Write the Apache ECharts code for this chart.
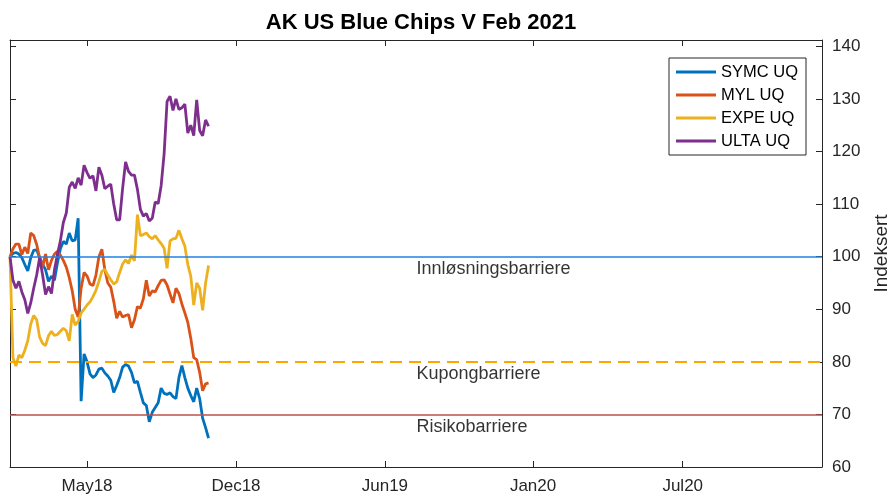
<!DOCTYPE html>
<html>
<head>
<meta charset="utf-8">
<script src="https://cdn.jsdelivr.net/npm/echarts@6/dist/echarts.min.js"></script>
<style>html,body{margin:0;padding:0;background:#fff}#c{width:891px;height:498px}</style>
</head>
<body>
<div id="c"></div>
<script>
const chartTitle = 'AK US Blue Chips V Feb 2021';
const yAxisName = 'Indeksert';
const axisStart = '2018-02-05';
const axisEnd = '2021-02-05';
const yMin = 60, yMax = 141.2;

const dates = [
  '2018-02-05','2018-02-09','2018-02-13','2018-02-17','2018-02-21','2018-02-25','2018-03-01','2018-03-05',
  '2018-03-09','2018-03-13','2018-03-17','2018-03-21','2018-03-25','2018-03-29','2018-04-02','2018-04-06',
  '2018-04-10','2018-04-14','2018-04-18','2018-04-22','2018-04-26','2018-04-30','2018-05-04','2018-05-08',
  '2018-05-12','2018-05-16','2018-05-20','2018-05-24','2018-05-28','2018-06-01','2018-06-05','2018-06-09',
  '2018-06-13','2018-06-17','2018-06-21','2018-06-25','2018-06-29','2018-07-03','2018-07-07','2018-07-11',
  '2018-07-15','2018-07-19','2018-07-23','2018-07-27','2018-07-31','2018-08-04','2018-08-08','2018-08-12',
  '2018-08-16','2018-08-20','2018-08-24','2018-08-28','2018-09-01','2018-09-05','2018-09-09','2018-09-13',
  '2018-09-17','2018-09-21','2018-09-25','2018-09-29','2018-10-03','2018-10-07','2018-10-11','2018-10-15',
  '2018-10-19','2018-10-23','2018-10-27','2018-10-31'
];

const symc = [
  100, 100.6, 100.8, 100.5, 99.8, 98.5, 97.3, 99.8,
  101.2, 101.3, 99.8, 98.6, 97.5, 95.3, 96.3, 95.5,
  98.8, 101.5, 102.9, 102.4, 104.5, 103.0, 103.2, 107.3,
  72.5, 81.5, 80.0, 77.7, 77.0, 77.5, 78.6, 78.8,
  77.9, 77.3, 76.5, 74.2, 75.5, 77.0, 79.0, 79.5,
  79.2, 78.0, 76.0, 76.3, 74.2, 72.2, 71.7, 68.6,
  70.4, 71.3, 72.2, 75.0, 74.0, 73.8, 74.1, 73.4,
  73.0, 77.0, 79.3, 77.0, 75.0, 73.6, 72.4, 75.0,
  73.0, 69.3, 67.5, 65.5
];
const myl = [
  100, 101.5, 102.4, 102.4, 100.4, 101.8, 100.6, 104.5,
  104.0, 102.3, 99.8, 98.0, 100.5, 97.5, 99.3, 100.5,
  101.0, 100.3, 99.3, 98.0, 96.0, 93.5, 90.0, 88.5,
  94.0, 97.0, 96.3, 94.8, 94.5, 96.5, 100.0, 101.4,
  97.5, 95.0, 94.2, 91.5, 88.3, 89.6, 88.5, 88.8,
  89.0, 86.5, 88.0, 90.5, 90.2, 92.0, 95.5, 92.5,
  93.5, 93.3, 94.5, 95.5, 95.6, 94.6, 92.9, 91.2,
  94.0, 93.0, 91.0, 89.3, 87.5, 84.5, 80.8, 80.4,
  78.0, 74.5, 75.8, 76.0
];
const expe = [
  100, 80.8, 79.2, 81.3, 80.8, 82.2, 84.0, 87.2,
  88.8, 88.0, 84.7, 83.5, 83.1, 85.0, 85.8, 85.0,
  85.2, 85.8, 86.4, 85.9, 84.0, 89.0, 87.0, 87.7,
  89.3, 90.0, 90.8, 91.4, 92.4, 93.6, 95.3, 97.2,
  97.6, 96.5, 95.6, 94.8, 95.2, 97.0, 98.6, 99.4,
  98.7, 100.3, 99.2, 108.0, 104.0, 104.2, 104.5, 103.8,
  103.4, 104.0, 103.2, 102.5, 101.6, 97.8, 103.0, 103.4,
  103.5, 105.0, 103.4, 102.0, 98.5, 96.3, 90.8, 95.0,
  94.0, 89.8, 95.0, 98.3
];
const ulta = [
  100, 95.5, 94.0, 95.3, 93.3, 91.8, 89.2, 91.2,
  94.0, 96.5, 99.8, 96.5, 92.8, 94.3, 93.0, 97.5,
  100.4, 103.0, 106.5, 108.3, 113.2, 114.2, 113.0, 115.0,
  113.6, 117.4, 116.0, 114.9, 115.4, 112.5, 117.0, 115.5,
  112.9, 113.4, 113.8, 110.0, 107.0, 107.0, 113.0, 118.0,
  116.2, 115.5, 115.5, 112.8, 109.0, 107.7, 108.2, 106.8,
  107.3, 110.4, 110.1, 113.5, 119.5, 129.5, 130.5, 127.8,
  130.0, 128.0, 128.3, 129.0, 123.5, 125.0, 123.0, 129.8,
  124.0, 123.0, 126.0, 124.8
];

const seriesNames = ['SYMC UQ', 'MYL UQ', 'EXPE UQ', 'ULTA UQ'];
const seriesColors = ['#0072BD', '#D95319', '#EDB120', '#7E2F8E'];

const tickDates = ['2018-05-20', '2018-12-07', '2019-06-26', '2020-01-12', '2020-08-01'];
const tickLabels = ['May18', 'Dec18', 'Jun19', 'Jan20', 'Jul20'];
const yTicks = [60, 70, 80, 90, 100, 110, 120, 130, 140];

const barrierNames = ['Innløsningsbarriere', 'Kupongbarriere', 'Risikobarriere'];
const barrierLevels = [100, 80, 70];

const ts = s => new Date(s + 'T00:00:00Z').getTime();
const xMin = ts(axisStart), xMax = ts(axisEnd);
const xMid = (xMin + xMax) / 2;
const tickTs = tickDates.map(ts);
const FONT = 'Liberation Sans, Arial, Helvetica, sans-serif';
const AX = '#262626';

const allValues = [symc, myl, expe, ulta];

const chart = echarts.init(document.getElementById('c'), null, {renderer: 'canvas'});

const xCommon = {
  type: 'value', min: xMin, max: xMax,
  splitLine: {show: false},
  axisLine: {show: true, onZero: false, lineStyle: {color: AX, width: 1}},
  axisTick: {show: true, inside: true, length: 6, customValues: tickTs, lineStyle: {color: AX}},
};
const yCommon = {
  type: 'value', min: yMin, max: yMax,
  splitLine: {show: false},
  axisLine: {show: true, onZero: false, lineStyle: {color: AX, width: 1}},
  axisTick: {show: true, inside: true, length: 6, customValues: yTicks, lineStyle: {color: AX}},
};

const lineSeries = seriesNames.map((name, i) => ({
  name: name,
  type: 'line',
  xAxisIndex: 0, yAxisIndex: 0,
  data: dates.map((d, j) => [ts(d), allValues[i][j]]),
  symbol: 'none',
  showSymbol: false,
  lineStyle: {width: 2.8, color: seriesColors[i]},
  itemStyle: {color: seriesColors[i]},
  silent: true,
  z: 2
}));

const barrierSeries = {
  name: 'barrierer',
  type: 'scatter',
  xAxisIndex: 0, yAxisIndex: 0,
  symbolSize: 1,
  itemStyle: {color: 'rgba(0,0,0,0)'},
  silent: true,
  z: 5,
  data: barrierLevels.map((lv, i) => ({
    value: [xMid, lv],
    label: {
      show: true, formatter: barrierNames[i], position: [1, 4],
      align: 'left', verticalAlign: 'top',
      fontSize: 18, lineHeight: 18, color: '#000', fontFamily: FONT
    }
  })),
  markLine: {
    silent: true, symbol: 'none', animation: false,
    label: {show: false},
    data: [
      {yAxis: barrierLevels[0], lineStyle: {color: '#1e82e6', width: 1.6, type: 'solid'}},
      {yAxis: barrierLevels[1], lineStyle: {color: '#ffa500', width: 2, type: [12, 7]}},
      {yAxis: barrierLevels[2], lineStyle: {color: '#be504b', width: 1.6, type: 'solid'}}
    ]
  }
};

chart.setOption({
  animation: false,
  backgroundColor: '#ffffff',
  textStyle: {fontFamily: FONT},
  title: {
    text: chartTitle, left: 416, top: 7, textAlign: 'center',
    textStyle: {fontSize: 22, fontWeight: 'bold', color: '#000', fontFamily: FONT}
  },
  grid: {left: 10, right: 69, top: 40, bottom: 31, containLabel: false, outerBoundsMode: 'none'},
  legend: {
    data: seriesNames,
    orient: 'vertical',
    left: 669, top: 58,
    icon: 'rect', itemWidth: 40, itemHeight: 3, itemGap: 5,
    padding: [5, 8, 5, 7],
    borderColor: AX, borderWidth: 1, backgroundColor: '#fff',
    selectedMode: false,
    textStyle: {fontSize: 16.5, lineHeight: 18, color: '#000', fontFamily: FONT}
  },
  xAxis: [
    Object.assign({}, xCommon, {
      position: 'bottom',
      axisLabel: {
        show: true, customValues: tickTs, margin: 11,
        fontSize: 17, color: AX, fontFamily: FONT,
        formatter: v => { const k = tickTs.indexOf(v); return k >= 0 ? tickLabels[k] : ''; }
      }
    }),
    Object.assign({}, xCommon, {position: 'top', axisLabel: {show: false}})
  ],
  yAxis: [
    Object.assign({}, yCommon, {
      position: 'right',
      name: yAxisName, nameLocation: 'middle', nameGap: 50, nameRotate: 90,
      nameTextStyle: {fontSize: 19, color: AX, fontFamily: FONT},
      axisLabel: {show: true, customValues: yTicks, margin: 10, fontSize: 17, color: AX, fontFamily: FONT}
    }),
    Object.assign({}, yCommon, {position: 'left', axisLabel: {show: false}})
  ],
  series: lineSeries.concat([barrierSeries])
});
</script>
</body>
</html>
